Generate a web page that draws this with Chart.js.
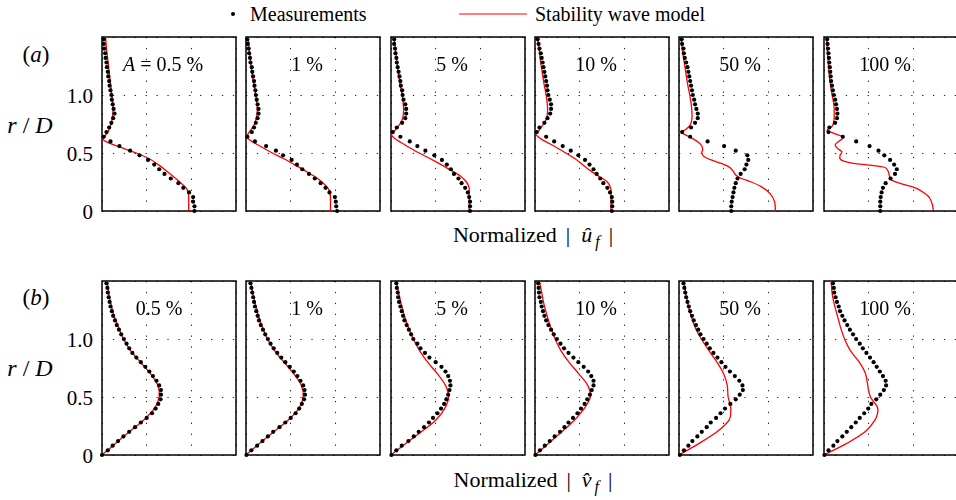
<!DOCTYPE html>
<html>
<head>
<meta charset="utf-8">
<script src="https://cdn.jsdelivr.net/npm/chart.js@4.4.1/dist/chart.umd.min.js"></script>
<style>
  body { margin: 0; background: #fff; width: 956px; height: 500px; position: relative; overflow: hidden;
         font-family: "Liberation Serif", "DejaVu Serif", serif; color: #000; }
  .panel { position: absolute; }
  .txt { position: absolute; font-size: 20px; line-height: 1; white-space: nowrap; transform: translate(-50%, -50%); }
  .tick { position: absolute; font-size: 21px; line-height: 1; white-space: nowrap; transform: translate(-100%, -50%); }
  .lg { position: absolute; font-size: 20px; line-height: 1; white-space: nowrap; transform: translateY(-50%); }
  .ttl { font-size: 22px; }
  .ttl sub { font-size: 16px; margin-left: 3px; }
</style>
</head>
<body>
<div class="lg" style="left:231px;top:14px;width:4px;height:4px;border-radius:2px;background:#000"></div>
<div class="lg" style="left:250px;top:14px">Measurements</div>
<div class="lg" style="left:459px;top:14px;width:68px;height:0;border-top:1.3px solid #f00"></div>
<div class="lg" style="left:535px;top:14px">Stability wave model</div>

<div class="txt" style="left:36px;top:54px;font-size:23px">(<i>a</i>)</div>
<div class="txt" style="left:36px;top:297px;font-size:23px">(<i>b</i>)</div>
<div class="txt" style="left:30px;top:125px;font-size:24px"><i>r</i> / <i>D</i></div>
<div class="txt" style="left:30px;top:368px;font-size:24px"><i>r</i> / <i>D</i></div>

<div class="tick" style="left:93px;top:96px">1.0</div>
<div class="tick" style="left:93px;top:154px">0.5</div>
<div class="tick" style="left:93px;top:212px">0</div>
<div class="tick" style="left:93px;top:340px">1.0</div>
<div class="tick" style="left:93px;top:398px">0.5</div>
<div class="tick" style="left:93px;top:456px">0</div>

<div class="txt ttl" style="left:533px;top:237px">Normalized<span style="margin-left:9px">|</span><i style="margin-left:11px">û</i><sub><i>f</i></sub><span style="margin-left:9px">|</span></div>
<div class="txt ttl" style="left:533px;top:482px">Normalized<span style="margin-left:9px">|</span><i style="margin-left:11px">v̂</i><sub><i>f</i></sub><span style="margin-left:9px">|</span></div>

<script>
// radial positions of the measurements (r/D)
const rMeas = [0, 0.04, 0.08, 0.12, 0.16, 0.2, 0.24, 0.28, 0.32, 0.36, 0.4, 0.44, 0.48, 0.52, 0.56, 0.6,
  0.64, 0.68, 0.72, 0.76, 0.8, 0.84, 0.88, 0.92, 0.96, 1.0, 1.04, 1.08, 1.12, 1.16, 1.2, 1.24, 1.28,
  1.32, 1.36, 1.4, 1.44, 1.48];

// (a) streamwise |u_f| measurements
const uMeasA1 = [2.07, 2.07, 2.04, 2.04, 1.95, 1.82, 1.71, 1.54, 1.40, 1.28, 1.17, 1.03, 0.84, 0.63, 0.39, 0.19,
  0.04, 0.10, 0.16, 0.21, 0.25, 0.28, 0.26, 0.24, 0.22, 0.21, 0.19, 0.17, 0.16, 0.14, 0.13, 0.11, 0.10,
  0.08, 0.07, 0.05, 0.04, 0.04];
const uMeasA2 = [2.04, 2.02, 2.01, 1.99, 1.87, 1.78, 1.67, 1.54, 1.41, 1.26, 1.14, 1.02, 0.83, 0.67, 0.45, 0.20,
  0.03, 0.13, 0.18, 0.22, 0.26, 0.28, 0.28, 0.26, 0.24, 0.22, 0.21, 0.19, 0.18, 0.16, 0.14, 0.13, 0.10,
  0.09, 0.07, 0.06, 0.04, 0.03];
const uMeasA3 = [1.77, 1.77, 1.77, 1.75, 1.72, 1.66, 1.58, 1.51, 1.41, 1.34, 1.25, 1.14, 0.97, 0.77, 0.59, 0.42,
  0.21, 0.04, 0.13, 0.25, 0.32, 0.34, 0.34, 0.32, 0.28, 0.26, 0.25, 0.22, 0.21, 0.19, 0.17, 0.15, 0.13,
  0.12, 0.10, 0.09, 0.07, 0.07];
const uMeasA4 = [1.72, 1.73, 1.73, 1.72, 1.68, 1.62, 1.53, 1.46, 1.38, 1.31, 1.22, 1.12, 0.97, 0.80, 0.62, 0.43,
  0.25, 0.04, 0.10, 0.21, 0.28, 0.34, 0.36, 0.36, 0.33, 0.30, 0.28, 0.27, 0.25, 0.23, 0.21, 0.19, 0.17,
  0.15, 0.13, 0.10, 0.08, 0.06];
const uMeasA5 = [1.17, 1.17, 1.18, 1.20, 1.22, 1.24, 1.27, 1.31, 1.38, 1.47, 1.51, 1.55, 1.53, 1.27, 1.01, 0.64,
  0.25, 0.07, 0.27, 0.36, 0.42, 0.42, 0.39, 0.36, 0.34, 0.31, 0.29, 0.27, 0.25, 0.23, 0.21, 0.19, 0.16,
  0.13, 0.11, 0.10, 0.07, 0.06];
const uMeasA6 = [1.26, 1.26, 1.26, 1.27, 1.29, 1.32, 1.38, 1.49, 1.59, 1.63, 1.57, 1.48, 1.35, 1.22, 1.02, 0.72,
  0.42, 0.10, 0.12, 0.25, 0.29, 0.30, 0.29, 0.27, 0.25, 0.22, 0.20, 0.18, 0.16, 0.15, 0.14, 0.13, 0.12,
  0.11, 0.10, 0.09, 0.08, 0.07];

// (a) stability wave model
const rModelA = [0, 0.1, 0.16, 0.2, 0.25, 0.3, 0.35, 0.4, 0.45, 0.5, 0.55, 0.58, 0.6, 0.62, 0.64, 0.66,
  0.68, 0.7, 0.75, 0.8, 0.85, 0.9, 1.0, 1.1, 1.2, 1.3, 1.4, 1.5];
const uModelA1 = [1.94, 1.94, 1.93, 1.88, 1.74, 1.59, 1.43, 1.26, 1.06, 0.77, 0.40, 0.19, 0.08, 0.02, 0.05, 0.09,
  0.13, 0.16, 0.20, 0.23, 0.245, 0.25, 0.22, 0.19, 0.16, 0.13, 0.10, 0.08];
const uModelA2 = [1.89, 1.89, 1.88, 1.83, 1.70, 1.53, 1.31, 1.08, 0.85, 0.59, 0.36, 0.22, 0.13, 0.06, 0.01, 0.04,
  0.07, 0.11, 0.19, 0.23, 0.25, 0.25, 0.22, 0.17, 0.13, 0.10, 0.07, 0.05];
const uModelA3 = [1.75, 1.75, 1.75, 1.75, 1.69, 1.56, 1.35, 1.12, 0.88, 0.63, 0.40, 0.27, 0.18, 0.10, 0.04, 0.01,
  0.05, 0.10, 0.20, 0.26, 0.28, 0.28, 0.25, 0.20, 0.16, 0.13, 0.10, 0.07];
const uModelA4 = [1.70, 1.70, 1.70, 1.69, 1.62, 1.43, 1.23, 1.06, 0.90, 0.69, 0.47, 0.33, 0.23, 0.14, 0.07, 0.02,
  0.06, 0.10, 0.19, 0.26, 0.28, 0.28, 0.25, 0.20, 0.16, 0.12, 0.09, 0.06];
const rModelA5 = [0, 0.08, 0.15, 0.21, 0.25, 0.28, 0.31, 0.35, 0.38, 0.41, 0.44, 0.47, 0.5, 0.53, 0.56, 0.59,
  0.63, 0.665, 0.68, 0.7, 0.74, 0.8, 0.9, 1.0, 1.1, 1.2, 1.3, 1.4, 1.5];
const uModelA5 = [2.16, 2.14, 2.04, 1.84, 1.62, 1.40, 1.27, 1.20, 1.12, 0.95, 0.72, 0.56, 0.51, 0.53, 0.51, 0.44,
  0.28, 0.10, 0.05, 0.14, 0.25, 0.29, 0.28, 0.24, 0.19, 0.15, 0.11, 0.07, 0.045];
const rModelA6 = [0, 0.05, 0.11, 0.15, 0.195, 0.23, 0.26, 0.28, 0.31, 0.34, 0.375, 0.395, 0.41, 0.43, 0.45,
  0.48, 0.51, 0.54, 0.57, 0.6, 0.635, 0.67, 0.695, 0.73, 0.77, 0.84, 0.92, 1.0, 1.1, 1.2, 1.3, 1.4, 1.5];
const uModelA6 = [2.45, 2.43, 2.37, 2.26, 2.07, 1.78, 1.55, 1.48, 1.46, 1.44, 1.37, 1.03, 0.66, 0.44, 0.36,
  0.36, 0.40, 0.30, 0.25, 0.33, 0.44, 0.22, 0.07, 0.18, 0.22, 0.23, 0.22, 0.18, 0.14, 0.11, 0.09, 0.07, 0.06];

// (b) radial |v_f| measurements
const vMeasB1 = [0.00, 0.13, 0.24, 0.36, 0.48, 0.61, 0.74, 0.87, 1.00, 1.12, 1.20, 1.26, 1.31, 1.32, 1.32, 1.28,
  1.22, 1.14, 1.06, 0.97, 0.87, 0.77, 0.68, 0.61, 0.55, 0.49, 0.43, 0.38, 0.33, 0.29, 0.25, 0.22, 0.19,
  0.17, 0.15, 0.13, 0.12, 0.10];
const vMeasB2 = [0.01, 0.12, 0.25, 0.37, 0.49, 0.61, 0.75, 0.88, 1.00, 1.11, 1.19, 1.25, 1.30, 1.32, 1.31, 1.28,
  1.22, 1.15, 1.07, 0.98, 0.88, 0.79, 0.70, 0.62, 0.55, 0.49, 0.43, 0.38, 0.33, 0.29, 0.26, 0.23, 0.20,
  0.18, 0.16, 0.14, 0.12, 0.10];
const vMeasB3 = [0.01, 0.12, 0.24, 0.39, 0.51, 0.62, 0.74, 0.85, 0.94, 1.04, 1.12, 1.19, 1.24, 1.28, 1.31, 1.33,
  1.32, 1.28, 1.22, 1.13, 1.00, 0.86, 0.76, 0.66, 0.59, 0.50, 0.45, 0.40, 0.35, 0.30, 0.27, 0.24, 0.21,
  0.18, 0.16, 0.15, 0.13, 0.12];
const vMeasB4 = [0.01, 0.11, 0.22, 0.33, 0.44, 0.56, 0.66, 0.75, 0.85, 0.95, 1.03, 1.11, 1.17, 1.23, 1.27, 1.31,
  1.31, 1.26, 1.19, 1.09, 0.97, 0.86, 0.75, 0.65, 0.57, 0.49, 0.42, 0.36, 0.30, 0.25, 0.21, 0.18, 0.15,
  0.13, 0.10, 0.09, 0.08, 0.07];
const vMeasB5 = [0.02, 0.11, 0.21, 0.30, 0.41, 0.51, 0.62, 0.71, 0.83, 0.93, 1.03, 1.15, 1.27, 1.36, 1.43, 1.42,
  1.35, 1.25, 1.14, 1.04, 0.95, 0.86, 0.77, 0.69, 0.62, 0.55, 0.48, 0.43, 0.38, 0.33, 0.29, 0.25, 0.22,
  0.19, 0.16, 0.14, 0.12, 0.10];
const vMeasB6 = [0.01, 0.10, 0.21, 0.30, 0.41, 0.51, 0.61, 0.71, 0.80, 0.90, 0.99, 1.06, 1.17, 1.26, 1.34, 1.39,
  1.38, 1.32, 1.25, 1.18, 1.11, 1.03, 0.95, 0.87, 0.80, 0.72, 0.65, 0.58, 0.52, 0.46, 0.41, 0.36, 0.33,
  0.29, 0.26, 0.23, 0.22, 0.20];

// (b) stability wave model
const rModelB = [0, 0.1, 0.2, 0.3, 0.4, 0.5, 0.6, 0.7, 0.8, 0.9, 1.0, 1.1, 1.2, 1.3, 1.4, 1.5];
const vModelB1 = [0, 0.30, 0.61, 0.93, 1.17, 1.28, 1.25, 1.09, 0.86, 0.64, 0.48, 0.37, 0.27, 0.20, 0.15, 0.12];
const vModelB2 = [0, 0.30, 0.62, 0.94, 1.18, 1.28, 1.24, 1.07, 0.85, 0.64, 0.48, 0.37, 0.28, 0.21, 0.15, 0.11];
const vModelB3 = [0, 0.33, 0.68, 1.00, 1.20, 1.29, 1.22, 1.04, 0.82, 0.64, 0.50, 0.39, 0.30, 0.23, 0.17, 0.12];
const vModelB4 = [0, 0.30, 0.60, 0.88, 1.10, 1.24, 1.18, 0.98, 0.76, 0.58, 0.45, 0.35, 0.27, 0.20, 0.15, 0.10];
const vModelB5 = [0, 0.45, 0.85, 1.12, 1.16, 1.10, 1.08, 1.00, 0.85, 0.67, 0.50, 0.36, 0.27, 0.20, 0.15, 0.11];
const rModelB6 = [0, 0.1, 0.2, 0.3, 0.36, 0.41, 0.46, 0.5, 0.55, 0.6, 0.7, 0.8, 0.9, 1.0, 1.1, 1.2, 1.3, 1.4, 1.5];
const vModelB6 = [0, 0.51, 0.92, 1.14, 1.20, 1.20, 1.11, 1.04, 1.00, 0.98, 0.93, 0.79, 0.59, 0.46, 0.37, 0.30,
  0.23, 0.18, 0.16];

const ampLabels = ['0.5 %', '1 %', '5 %', '10 %', '50 %', '100 %'];

const rowA = [
  [uMeasA1, rModelA, uModelA1], [uMeasA2, rModelA, uModelA2], [uMeasA3, rModelA, uModelA3],
  [uMeasA4, rModelA, uModelA4], [uMeasA5, rModelA5, uModelA5], [uMeasA6, rModelA6, uModelA6]
];
const rowB = [
  [vMeasB1, rModelB, vModelB1], [vMeasB2, rModelB, vModelB2], [vMeasB3, rModelB, vModelB3],
  [vMeasB4, rModelB, vModelB4], [vMeasB5, rModelB, vModelB5], [vMeasB6, rModelB6, vModelB6]
];

const lefts = [102, 246, 391, 535, 679, 824];
const tops = [37, 281];
const W = 134, H = 174, PAD = 6;

const toPts = (xs, rs) => xs.map((x, i) => ({ x: x, y: rs[i] }));

// solid frame round each panel, under the marks
const framePlugin = {
    id: 'frame',
    beforeDatasetsDraw(chart) {
        const a = chart.chartArea;
        const ctx = chart.ctx;
        ctx.save();
        ctx.strokeStyle = '#000';
        ctx.lineWidth = 1.5;
        ctx.strokeRect(a.left, a.top, a.right - a.left, a.bottom - a.top);
        ctx.restore();
    }
};

function axis(max, step) {
    return {
        type: 'linear', min: 0, max: max,
        ticks: { display: false, stepSize: step },
        grid: { color: '#222', lineWidth: 1, drawTicks: false },
        border: { display: false, dash: [1.3, 9.6] }
    };
}

function makePanel(row, col, meas, rModel, model) {
    const box = document.createElement('div');
    box.className = 'panel';
    box.style.left = (lefts[col] - PAD) + 'px';
    box.style.top = (tops[row] - PAD) + 'px';
    const canvas = document.createElement('canvas');
    canvas.width = W + 2 * PAD;
    canvas.height = H + 2 * PAD;
    box.appendChild(canvas);
    document.body.appendChild(box);

    new Chart(canvas, {
        type: 'scatter',
        data: {
            datasets: [{
                data: toPts(meas, rMeas),
                backgroundColor: '#000',
                borderWidth: 0,
                pointRadius: 2.1,
                clip: false,
                order: 1
            }, {
                data: toPts(model, rModel),
                showLine: true,
                borderColor: '#ff0000',
                borderWidth: 1.3,
                pointRadius: 0,
                tension: 0.3,
                clip: false,
                order: 2
            }]
        },
        options: {
            responsive: false,
            animation: false,
            layout: { padding: PAD },
            plugins: { legend: { display: false }, tooltip: { enabled: false } },
            scales: { x: axis(3, 1), y: axis(1.5, 0.5) }
        },
        plugins: [framePlugin]
    });

    const lab = document.createElement('div');
    lab.className = 'txt';
    lab.style.left = (lefts[col] + (row === 1 && col === 0 ? 57 : 61)) + 'px';
    lab.style.top = (tops[row] + 27) + 'px';
    lab.innerHTML = (row === 0 && col === 0 ? '<i>A</i> = ' : '') + ampLabels[col];
    document.body.appendChild(lab);
}

rowA.forEach((p, i) => makePanel(0, i, p[0], p[1], p[2]));
rowB.forEach((p, i) => makePanel(1, i, p[0], p[1], p[2]));
</script>
</body>
</html>
